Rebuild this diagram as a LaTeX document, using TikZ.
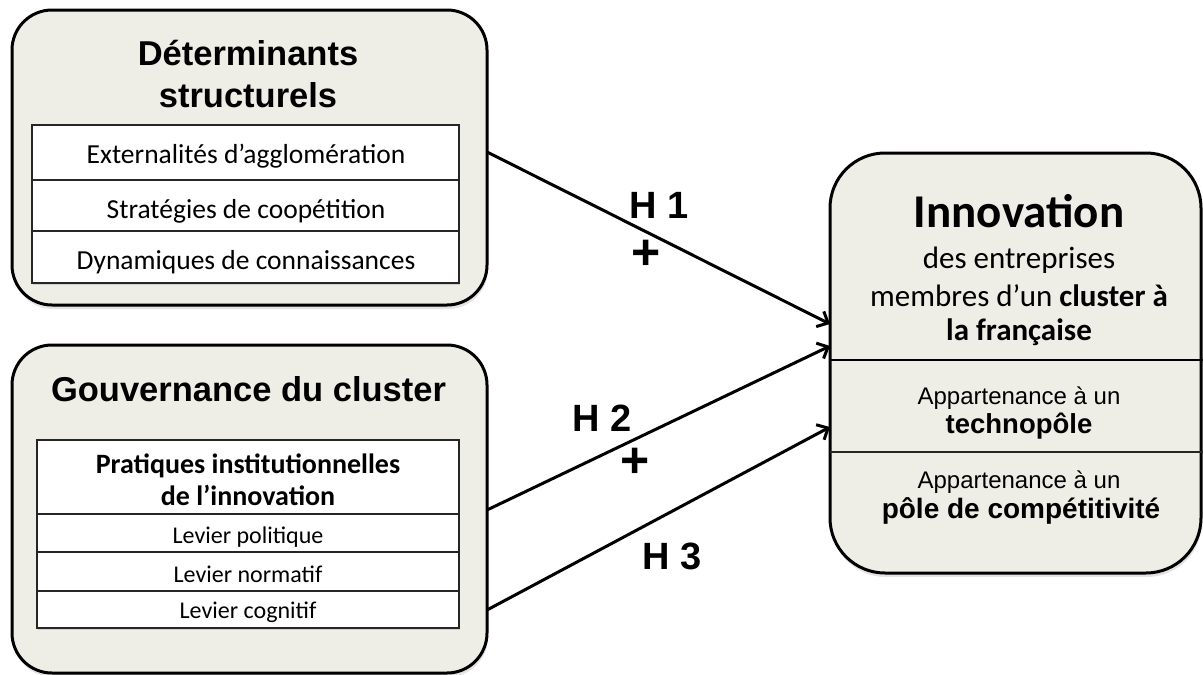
\documentclass[tikz,border=0pt]{standalone}
\usepackage{fontspec}
\setmainfont{Liberation Sans}
\newfontfamily\calf{Carlito}
\usetikzlibrary{arrows.meta,shadows}
\definecolor{boxfill}{RGB}{238,237,230}
\tikzset{
  bigbox/.style={draw=black, line width=3pt, fill=boxfill, rounded corners=#1,
    inner sep=0pt, outer sep=0pt,
    drop shadow={shadow xshift=1pt, shadow yshift=-4pt, opacity=.22}},
  cell/.style={draw=black!85, line width=1.6pt, fill=white, inner sep=0pt, outer sep=0pt,
    drop shadow={shadow xshift=1pt, shadow yshift=-2pt, opacity=.25}},
  head/.style={anchor=base, inner sep=0pt, font=\fontsize{34.5}{40}\selectfont\bfseries},
  celltxt/.style={anchor=base, inner sep=0pt, font=\calf\fontsize{27.5}{32}\selectfont},
  smalltxt/.style={anchor=base, inner sep=0pt, font=\calf\fontsize{24}{28}\selectfont},
  hlab/.style={anchor=base, inner sep=0pt, font=\fontsize{38}{42}\selectfont\bfseries},
  plus/.style={inner sep=0pt, font=\fontsize{50}{54}\selectfont\bfseries},
  arr/.style={line width=3pt, -{Straight Barb[length=9pt,width=17pt,line width=3pt]}}
}
\begin{document}
\begin{tikzpicture}[x=1pt,y=-1pt]
\useasboundingbox (0,0) rectangle (1203,675);

% ---------- big boxes ----------
\node[bigbox=40pt, minimum width=475pt, minimum height=295pt] (det) at (249.5,157.5) {};
\node[bigbox=40pt, minimum width=475pt, minimum height=328pt] (gov) at (249.5,509) {};
\node[bigbox=55pt, minimum width=371pt, minimum height=420pt] (inno) at (1015.5,363) {};

% ---------- top-left box ----------
\node[head] (dt1) at (248,65) {Déterminants};
\node[head] (dt2) at (248,107) {structurels};
\node[cell, minimum width=427pt, minimum height=55pt] (c1) at (245.5,152.5) {};
\node[cell, minimum width=427pt, minimum height=51pt] (c2) at (245.5,205.5) {};
\node[cell, minimum width=427pt, minimum height=52pt] (c3) at (245.5,257) {};
\node[celltxt] (c1t) at (246,163) {Externalités d’agglomération};
\node[celltxt] (c2t) at (246,218) {Stratégies de coopétition};
\node[celltxt] (c3t) at (246,269) {Dynamiques de connaissances};

% ---------- bottom-left box ----------
\node[head] (gt) at (248.5,401) {Gouvernance du cluster};
\node[cell, minimum width=422pt, minimum height=74pt] (d1) at (248,477) {};
\node[cell, minimum width=422pt, minimum height=38pt] (d2) at (248,533) {};
\node[cell, minimum width=422pt, minimum height=39pt] (d3) at (248,571.5) {};
\node[cell, minimum width=422pt, minimum height=37pt] (d4) at (248,609.5) {};
\node[celltxt, font=\calf\fontsize{28}{32}\selectfont\bfseries] (d1a) at (248,473) {Pratiques institutionnelles};
\node[celltxt, font=\calf\fontsize{28}{32}\selectfont\bfseries] (d1b) at (248,505) {de l’innovation};
\node[smalltxt] (d2t) at (248,543) {Levier politique};
\node[smalltxt] (d3t) at (248,582) {Levier normatif};
\node[smalltxt] (d4t) at (248,618) {Levier cognitif};

% ---------- right box ----------
\draw[line width=2pt] (inno.west |- 0,360) -- (1203,360);
\draw[line width=1.6pt, black!85] (inno.west |- 0,452) -- (1203,452);
\node[anchor=base, inner sep=0pt, font=\calf\fontsize{47}{52}\selectfont\bfseries] (i1) at (1019,227) {Innovation};
\node[anchor=base, inner sep=0pt, font=\calf\fontsize{31}{36}\selectfont] (i2) at (1019,268) {des entreprises};
\node[anchor=base, inner sep=0pt, font=\calf\fontsize{31}{36}\selectfont] (i3) at (1019,306) {membres d’un \textbf{cluster à}};
\node[anchor=base, inner sep=0pt, font=\calf\fontsize{31}{36}\selectfont\bfseries] (i4) at (1019,340) {la française};
\node[anchor=base, inner sep=0pt, font=\fontsize{24}{28}\selectfont] (i5) at (1019,404) {Appartenance à un};
\node[anchor=base, inner sep=0pt, font=\fontsize{27.5}{30}\selectfont\bfseries] (i6) at (1019,433) {technopôle};
\node[anchor=base, inner sep=0pt, font=\fontsize{24}{28}\selectfont] (i7) at (1019,488) {Appartenance à un};
\node[anchor=base, inner sep=0pt, font=\fontsize{28}{30}\selectfont\bfseries] (i8) at (1021,518) {pôle de compétitivité};

% ---------- connectors ----------
\coordinate (h1s) at (det.east |- 0,152);
\coordinate (h1e) at (inno.west |- 0,324);
\coordinate (h2s) at (gov.east |- 0,510);
\coordinate (h2e) at (inno.west |- 0,346);
\coordinate (h3s) at (gov.east |- 0,610);
\coordinate (h3e) at (inno.west |- 0,427);
\draw[arr] (h1s) -- (h1e);
\draw[arr] (h2s) -- (h2e);
\draw[arr] (h3s) -- (h3e);

\node[hlab] (l1) at (659,218) {H 1};
\node[plus] (p1) at (646,255) {+};
\node[hlab] (l2) at (602,431) {H 2};
\node[plus] (p2) at (635,463) {+};
\node[hlab] (l3) at (672,569) {H 3};
\end{tikzpicture}
\end{document}
